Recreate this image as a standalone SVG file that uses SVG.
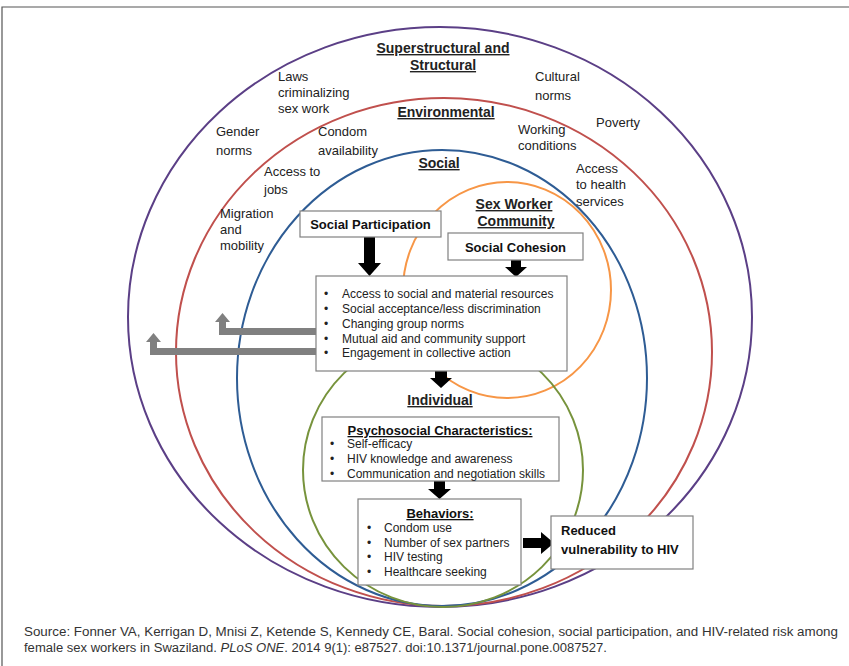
<svg xmlns="http://www.w3.org/2000/svg" width="849" height="666" viewBox="0 0 849 666">
<style>
.t{font-family:"Liberation Sans",Arial,sans-serif;font-size:13px;fill:#222}
.h{font-family:"Liberation Sans",Arial,sans-serif;font-size:14px;font-weight:bold;fill:#222;text-decoration:underline}
.bt{font-family:"Liberation Sans",Arial,sans-serif;font-size:13px;font-weight:bold;fill:#111}
.li{font-family:"Liberation Sans",Arial,sans-serif;font-size:12px;fill:#222}
.box{fill:#fff;stroke:#808080;stroke-width:1.2}
.ring{fill:none;stroke-width:2}
.blk{fill:#000}
.gry{fill:#808080}
.src{font-family:"Liberation Sans",Arial,sans-serif;font-size:12px;fill:#333}
</style>
<rect width="849" height="666" fill="#fff"/>
<path d="M2,666 V7 H849" fill="none" stroke="#555" stroke-width="1.2"/>
<g id="rings">
<ellipse id="superstructural" class="ring" cx="440" cy="317" rx="312" ry="290" stroke="#5b3f86"/>
<ellipse id="environmental" class="ring" cx="444" cy="352" rx="268" ry="254" stroke="#c0504d"/>
<ellipse id="social" class="ring" cx="442" cy="378" rx="205" ry="228" stroke="#2e5c94"/>
<ellipse id="sexworker" class="ring" cx="507" cy="290" rx="104" ry="108" stroke="#f79646"/>
<ellipse id="individual" class="ring" cx="443" cy="470" rx="140" ry="137" stroke="#77933c"/>
</g>
<g id="labels">
<text class="h" x="443" y="53" text-anchor="middle">Superstructural and</text>
<text class="h" x="443" y="70" text-anchor="middle">Structural</text>
<text class="t" x="278" y="81">Laws</text>
<text class="t" x="278" y="97">criminalizing</text>
<text class="t" x="278" y="113">sex work</text>
<text class="t" x="535" y="81">Cultural</text>
<text class="t" x="535" y="100">norms</text>
<text class="h" x="446" y="117" text-anchor="middle">Environmental</text>
<text class="t" x="216" y="136">Gender</text>
<text class="t" x="216" y="155">norms</text>
<text class="t" x="318" y="136">Condom</text>
<text class="t" x="318" y="155">availability</text>
<text class="t" x="518" y="134">Working</text>
<text class="t" x="518" y="150">conditions</text>
<text class="t" x="596" y="127">Poverty</text>
<text class="t" x="264" y="176">Access to</text>
<text class="t" x="264" y="194">jobs</text>
<text class="h" x="439" y="168" text-anchor="middle">Social</text>
<text class="t" x="576" y="173">Access</text>
<text class="t" x="576" y="189">to health</text>
<text class="t" x="576" y="206">services</text>
<text class="t" x="220" y="218">Migration</text>
<text class="t" x="220" y="234">and</text>
<text class="t" x="220" y="250">mobility</text>
<text class="h" x="514" y="209" text-anchor="middle">Sex Worker</text>
<text class="h" x="516" y="226" text-anchor="middle">Community</text>
<text class="h" x="440" y="405" text-anchor="middle">Individual</text>
</g>
<g id="connectors">
<polygon class="gry" points="316,328 226,328 226,322 230,322 222.5,313 215,322 219,322 219,335 316,335"/>
<polygon class="gry" points="316,348 157,348 157,342 161,342 153.5,333 146,342 150,342 150,355 316,355"/>
<polygon class="blk" points="364,237 375,237 375,263 381,263 369.5,276 358,263 364,263"/>
<polygon class="blk" points="511,260 521,260 521,267 527,267 516,277 505,267 511,267"/>
<polygon class="blk" points="435,371 447,371 447,378 452,378 441,388 430,378 435,378"/>
<polygon class="blk" points="434,481 445,481 445,489 451,489 439.5,499 428,489 434,489"/>
<polygon class="blk" points="523,538 541,538 541,532 554,543 541,554 541,548 523,548"/>
</g>
<g id="social-participation">
<rect class="box" x="300" y="211" width="141" height="26"/>
<text class="bt" x="370.5" y="229" text-anchor="middle">Social Participation</text>
</g>
<g id="social-cohesion">
<rect class="box" x="448" y="233" width="135" height="27"/>
<text class="bt" x="515.5" y="252" text-anchor="middle">Social Cohesion</text>
</g>
<g id="outcomes">
<rect class="box" x="316" y="276" width="251" height="95"/>
<g class="li">
<text x="324" y="298">•</text><text x="342" y="298">Access to social and material resources</text>
<text x="324" y="313">•</text><text x="342" y="313">Social acceptance/less discrimination</text>
<text x="324" y="328">•</text><text x="342" y="328">Changing group norms</text>
<text x="324" y="343">•</text><text x="342" y="343">Mutual aid and community support</text>
<text x="324" y="357">•</text><text x="342" y="357">Engagement in collective action</text>
</g>
</g>
<g id="psychosocial">
<rect class="box" x="322" y="417" width="237" height="64"/>
<text class="bt" x="440" y="435" text-anchor="middle" text-decoration="underline">Psychosocial Characteristics:</text>
<g class="li">
<text x="330" y="448">•</text><text x="347" y="448">Self-efficacy</text>
<text x="330" y="463">•</text><text x="347" y="463">HIV knowledge and awareness</text>
<text x="330" y="478">•</text><text x="347" y="478">Communication and negotiation skills</text>
</g>
</g>
<g id="behaviors">
<rect class="box" x="358" y="499" width="163" height="86"/>
<text class="bt" x="440" y="518" text-anchor="middle" text-decoration="underline">Behaviors:</text>
<g class="li">
<text x="367" y="532">•</text><text x="384" y="532">Condom use</text>
<text x="367" y="547">•</text><text x="384" y="547">Number of sex partners</text>
<text x="367" y="561">•</text><text x="384" y="561">HIV testing</text>
<text x="367" y="576">•</text><text x="384" y="576">Healthcare seeking</text>
</g>
</g>
<g id="reduced-vulnerability">
<rect class="box" x="551" y="516" width="142" height="53"/>
<text class="bt" x="561" y="535">Reduced</text>
<text class="bt" x="561" y="554">vulnerability to HIV</text>
</g>
<g id="source">
<text class="src" x="24" y="636" textLength="814" lengthAdjust="spacingAndGlyphs">Source: Fonner VA, Kerrigan D, Mnisi Z, Ketende S, Kennedy CE, Baral. Social cohesion, social participation, and HIV-related risk among</text>
<text class="src" x="24" y="652" textLength="583" lengthAdjust="spacingAndGlyphs">female sex workers in Swaziland. <tspan font-style="italic">PLoS ONE</tspan>. 2014 9(1): e87527. doi:10.1371/journal.pone.0087527.</text>
</g>
</svg>
